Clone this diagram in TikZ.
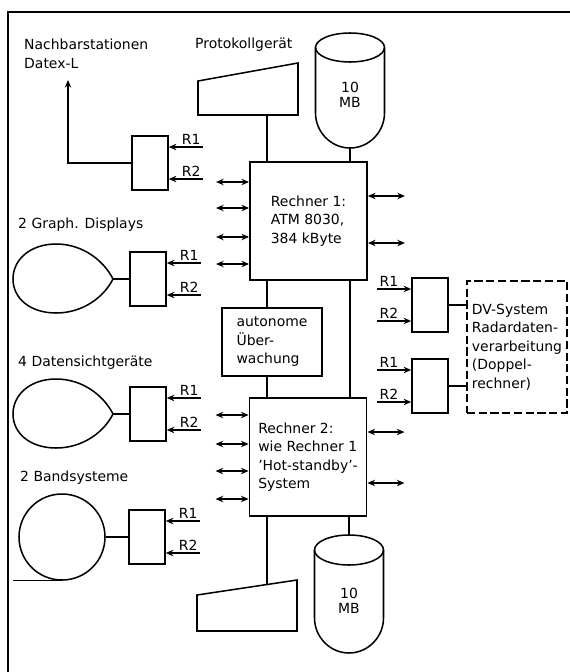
\documentclass[tikz,border=0pt]{standalone}
\usepackage{fontspec}
\setmainfont{DejaVu Sans}
\usepackage{tikz}
\usetikzlibrary{arrows.meta, calc}

\begin{document}
\begin{tikzpicture}[x=0.03cm, y=-0.03cm, font=\fontsize{11.9}{15.8}\selectfont,
  unit/.style={draw, line width=1.3pt, inner sep=0pt, align=left},
  port/.style={unit, minimum width=1.08cm, minimum height=1.62cm},
  cpu/.style={unit, minimum width=3.52cm, minimum height=3.54cm},
  lbl/.style={inner sep=0pt, anchor=west, align=left},
  rlab/.style={inner sep=1.5pt},
  wire/.style={line width=1pt},
  sig/.style={wire, -{Stealth[length=6.5pt, width=5.5pt]}},
  dbl/.style={wire, {Stealth[length=6.5pt, width=5.5pt]}-{Stealth[length=6.5pt, width=5.5pt]}}]
  \useasboundingbox (0,0) rectangle (570,672);
  % frame of the figure
  \draw[line width=1.2pt] (8,672) -- (8,12) -- (570,12);

  % the two computers and the watchdog
  \node[cpu] (r1) at (308.5,221) {Rechner 1:\\ATM 8030,\\384 kByte};
  \node[cpu] (r2) at (308,457) {Rechner 2:\\wie Rechner 1\\’Hot-standby’-\\System};
  \node[unit, minimum width=3cm, minimum height=2.04cm] (watch) at (272,342)
    {autonome\\Über-\\wachung};
  \node[unit, dash pattern=on 7pt off 3pt, minimum width=3cm, minimum height=3.96cm]
    (dv) at (517,347) {DV-System\\Radardaten-\\verarbeitung\\(Doppel-\\rechner)};

  % line interfaces
  \node[port] (portA) at (150,163) {};
  \node[port] (portB) at (148,279) {};
  \node[port] (portC) at (148,414) {};
  \node[port] (portD) at (147,537) {};
  \node[port] (portE) at (430,305) {};
  \node[port] (portF) at (430,386) {};

  % labels
  \node[lbl] (nachbar) at (24,54) {Nachbarstationen\\Datex-L};
  \node[lbl] (protlab) at (195,45) {Protokollgerät};
  \node[lbl] (graphlab) at (18,225) {2 Graph. Displays};
  \node[lbl] (sichtlab) at (18,363) {4 Datensichtgeräte};
  \node[lbl] (bandlab) at (20,478) {2 Bandsysteme};

  % printers
  \draw[line width=1.3pt] (198,81) -- (298,63) -- (298,115) -- (198,115) -- cycle;
  \coordinate (prn1) at (267,115);
  \draw[line width=1.3pt] (197,595) -- (297,580) -- (297,631) -- (197,631) -- cycle;
  \coordinate (prn2) at (267,584.5);

  % disks
  \begin{scope}[shift={(350,33)}]
    \draw[line width=1.3pt] (0,14.5) ellipse [x radius=34.5, y radius=14.5];
    \draw[line width=1.3pt] (-34.5,14.5) -- (-34.5,80)
      .. controls (-34.5,99) and (-19,115) .. (0,115)
      .. controls (19,115) and (34.5,99) .. (34.5,80) -- (34.5,14.5);
    \node[align=center, font=\fontsize{11.9}{13}\selectfont] (mb1) at (0,62) {10\\MB};
    \coordinate (disk1) at (0,115);
  \end{scope}
  \begin{scope}[shift={(349,535)}]
    \draw[line width=1.3pt] (0,15) ellipse [x radius=34.5, y radius=15];
    \draw[line width=1.3pt] (-34.5,15) -- (-34.5,83)
      .. controls (-34.5,102) and (-19,118) .. (0,118)
      .. controls (19,118) and (34.5,102) .. (34.5,83) -- (34.5,15);
    \node[align=center, font=\fontsize{11.9}{13}\selectfont] (mb2) at (0,66) {10\\MB};
    \coordinate (disk2) at (0,0);
  \end{scope}

  % displays
  \draw[line width=1.3pt] (113,279) .. controls (104,261) and (83,244) .. (56,244)
    .. controls (31,244) and (13,259) .. (13,279)
    .. controls (13,299) and (31,313) .. (56,313)
    .. controls (83,313) and (104,297) .. (113,279) -- cycle;
  \coordinate (disp1) at (113,279);
  \begin{scope}[shift={(0,135)}]
    \draw[line width=1.3pt] (113,279) .. controls (104,261) and (83,244) .. (56,244)
      .. controls (31,244) and (13,259) .. (13,279)
      .. controls (13,299) and (31,313) .. (56,313)
      .. controls (83,313) and (104,297) .. (113,279) -- cycle;
    \coordinate (disp2) at (113,279);
  \end{scope}

  % tape unit
  \node[draw, circle, line width=1.3pt, inner sep=0pt, minimum size=2.58cm] (tape) at (62,537) {};
  \draw[wire] (tape.south) -- ++(-49,0);

  % devices to interfaces
  \coordinate (datex) at (68,80);
  \draw[sig] (portA.west) -| (datex);
  \draw[wire] (disp1) -- (disp1 -| portB.west);
  \draw[wire] (disp2) -- (disp2 -| portC.west);
  \draw[wire] (tape.east) -- (tape.east -| portD.west);
  \draw[wire] (portE.east) -- (portE.east -| dv.west);
  \draw[wire] (portF.east) -- (portF.east -| dv.west);

  % R1 / R2 inputs
  \foreach \p in {portA,portB,portC,portD} {
    \draw[sig] ($(\p.east)+(34,-16)$) node[rlab, anchor=south east] {R1} -- ($(\p.east)+(0,-16)$);
    \draw[sig] ($(\p.east)+(34,16)$) node[rlab, anchor=south east] {R2} -- ($(\p.east)+(0,16)$);
  }
  \foreach \p in {portE,portF} {
    \draw[sig] ($(\p.west)+(-34,-16)$) node[rlab, anchor=south west] {R1} -- ($(\p.west)+(0,-16)$);
    \draw[sig] ($(\p.west)+(-34,16)$) node[rlab, anchor=south west] {R2} -- ($(\p.west)+(0,16)$);
  }

  % computer links
  \draw[wire] (prn1) -- (prn1 |- r1.north);
  \draw[wire] (disk1) -- (disk1 |- r1.north);
  \draw[wire] (prn1 |- r1.south) -- (prn1 |- watch.north);
  \draw[wire] (prn1 |- watch.south) -- (prn1 |- r2.north);
  \draw[wire] (disk1 |- r1.south) -- (disk1 |- r2.north);
  \draw[wire] (prn2 |- r2.south) -- (prn2);
  \draw[wire] (disk2 |- r2.south) -- (disk2);

  % channels
  \foreach \y in {182,208,237,264} \draw[dbl] (r1.west |- 0,\y) -- ++(-33,0);
  \foreach \y in {196,243} \draw[dbl] (r1.east |- 0,\y) -- ++(37,0);
  \foreach \y in {415,444,471,499} \draw[dbl] (r2.west |- 0,\y) -- ++(-33,0);
  \foreach \y in {432,483} \draw[dbl] (r2.east |- 0,\y) -- ++(37,0);
\end{tikzpicture}
\end{document}
